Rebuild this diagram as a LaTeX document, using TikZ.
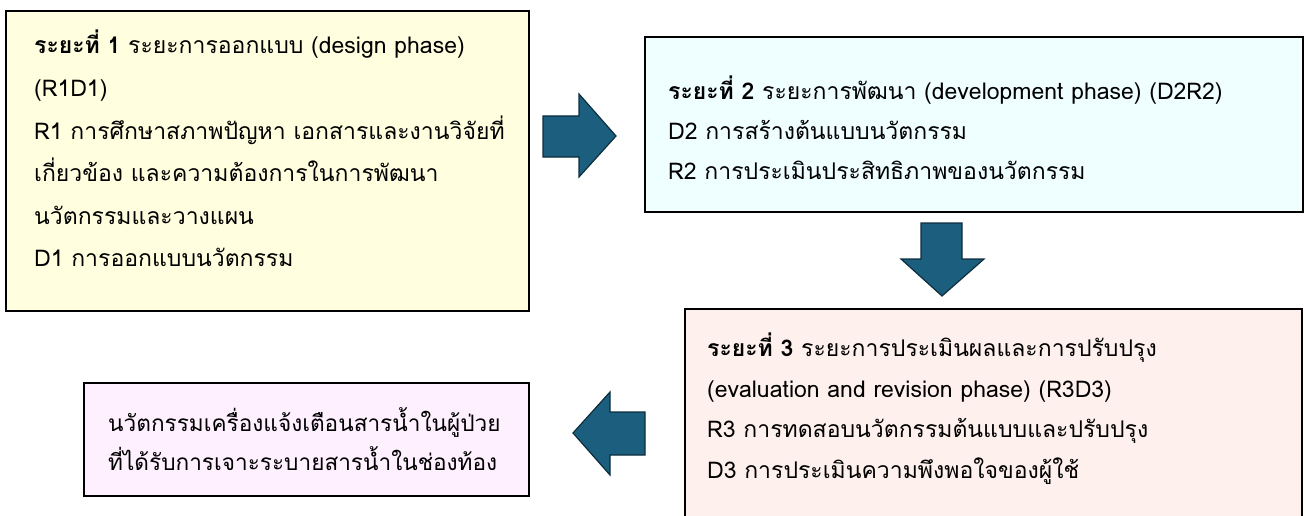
\documentclass[tikz,border=0pt]{standalone}
\usepackage{fontspec}
\setmainfont[Script=Thai]{Loma}
\usetikzlibrary{positioning}
\definecolor{phaseyellow}{HTML}{FFFFE0}
\definecolor{phasecyan}{HTML}{EFFEFF}
\definecolor{phasepink}{HTML}{FEF0EC}
\definecolor{outpink}{HTML}{FEF0FE}
\definecolor{arrowblue}{HTML}{1B5E7E}
\definecolor{arrowedge}{HTML}{0E2E3E}

\begin{document}
\begin{tikzpicture}[x=1pt,y=-1pt,
  box/.style={draw=black,line width=2.5pt,anchor=north west,inner sep=0pt,outer sep=0pt},
  txt/.style={anchor=north west,inner sep=0pt,align=left,font=\fontsize{23}{42.6}\selectfont},
  blockarrow/.style={fill=arrowblue,draw=arrowedge,line width=1.2pt,line join=miter}]
\useasboundingbox (0,0) rectangle (1306,516);
\clip (0,0) rectangle (1306,516);
% phase boxes
\node[box,fill=phaseyellow,minimum width=523pt,minimum height=300pt] (P_1) at (6,11) {};
\node[box,fill=phasecyan,minimum width=658pt,minimum height=175pt] (P_2) at (645,37) {};
\node[box,fill=phasepink,minimum width=617pt,minimum height=240pt] (P_3) at (685,309) {};
\node[box,fill=outpink,minimum width=445pt,minimum height=113pt] (Out) at (84,383) {};
% texts
\node[txt] (T_1) at ([shift={(28,19)}]P_1.north west) {\textbf{ระยะที่ 1} ระยะการออกแบบ (design phase)\\
(R1D1)\\
R1 การศึกษาสภาพปัญหา เอกสารและงานวิจัยที่\\
เกี่ยวข้อง และความต้องการในการพัฒนา\\
นวัตกรรมและวางแผน\\
D1 การออกแบบนวัตกรรม};
\node[txt,font=\fontsize{23}{40}\selectfont] (T_2) at ([shift={(23,39)}]P_2.north west) {\textbf{ระยะที่ 2} ระยะการพัฒนา (development phase) (D2R2)\\
D2 การสร้างต้นแบบนวัตกรรม\\
R2 การประเมินประสิทธิภาพของนวัตกรรม};
\node[txt,font=\fontsize{23}{40.5}\selectfont] (T_3) at ([shift={(22,24)}]P_3.north west) {\textbf{ระยะที่ 3} ระยะการประเมินผลและการปรับปรุง\\
(evaluation and revision phase) (R3D3)\\
R3 การทดสอบนวัตกรรมต้นแบบและปรับปรุง\\
D3 การประเมินความพึงพอใจของผู้ใช้};
\node[txt,font=\fontsize{22.6}{39}\selectfont] (T_4) at ([shift={(24,24)}]Out.north west) {นวัตกรรมเครื่องแจ้งเตือนสารน้ำในผู้ป่วย\\
ที่ได้รับการเจาะระบายสารน้ำในช่องท้อง};
% block arrows
\draw[blockarrow] (543,116) -- (579,116) -- (579,94) -- (616,136) -- (579,177) -- (579,157) -- (543,157) -- cycle;
\draw[blockarrow] (921,223) -- (962,223) -- (962,259) -- (984,259) -- (942,296) -- (901,259) -- (921,259) -- cycle;
\draw[blockarrow] (645,412) -- (645,455) -- (610,455) -- (610,475) -- (573,433) -- (610,392) -- (610,412) -- cycle;
\end{tikzpicture}
\end{document}
